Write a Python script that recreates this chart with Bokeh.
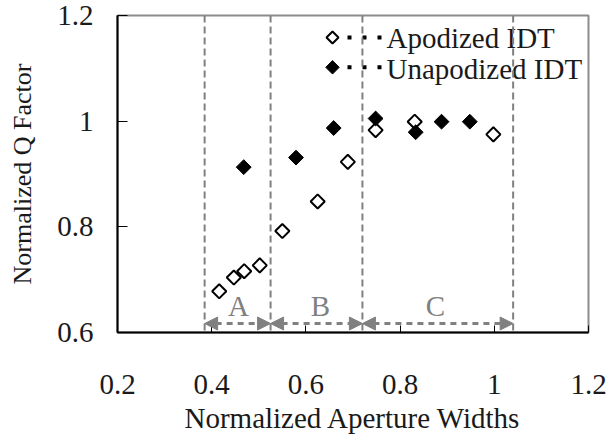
import math
from bokeh.plotting import figure
from bokeh.models import Span, Arrow, NormalHead, FixedTicker
from bokeh.core.properties import value
from bokeh.embed import file_html
from bokeh.resources import INLINE

# ---- data ----
apod_x = [0.416, 0.447, 0.469, 0.502, 0.550, 0.625, 0.689, 0.748, 0.831, 0.998]
apod_y = [0.678, 0.704, 0.716, 0.727, 0.792, 0.848, 0.923, 0.983, 0.999, 0.975]
unap_x = [0.468, 0.579, 0.659, 0.748, 0.833, 0.888, 0.948]
unap_y = [0.913, 0.931, 0.987, 1.005, 0.979, 0.999, 0.999]
series_names = ["Apodized IDT", "Unapodized IDT"]
x_title = "Normalized Aperture Widths"
y_title = "Normalized Q Factor"

region_edges = [0.385, 0.525, 0.72, 1.04]
region_names = ["A", "B", "C"]
region_label_x = [0.457, 0.631, 0.875]
region_arrow_y = 0.617
region_label_y = 0.651

x_ticks = [0.2, 0.4, 0.6, 0.8, 1.0, 1.2]
y_ticks = [0.6, 0.8, 1.0, 1.2]
x_tick_labels = {0.2: "0.2", 0.4: "0.4", 0.6: "0.6", 0.8: "0.8", 1.0: "1", 1.2: "1.2"}
y_tick_labels = {0.6: "0.6", 0.8: "0.8", 1.0: "1", 1.2: "1.2"}

FONT = "Liberation Serif"
TXT = "#1a1a1a"
GRAY = "#808080"

W, H = 613, 436
BL, BR, BT, BB = 117, 25, 15, 103
X0, X1, Y0, Y1 = 0.2, 1.2, 0.6, 1.2

p = figure(width=W, height=H, x_range=(X0, X1), y_range=(Y0, Y1),
           output_backend="svg", toolbar_location=None,
           min_border_left=BL, min_border_right=BR, min_border_top=BT, min_border_bottom=BB)
p.grid.visible = False
p.background_fill_color = "white"
p.outline_line_color = "#8c8c8c"
p.outline_line_width = 2

for ax in (p.xaxis[0], p.yaxis[0]):
    ax.axis_line_color = "black"
    ax.axis_line_width = 2
    ax.major_tick_line_color = "black"
    ax.major_tick_line_width = 1
    ax.major_tick_out = 0
    ax.minor_tick_line_color = None
    ax.major_label_text_font = FONT
    ax.major_label_text_font_size = "29px"
    ax.major_label_text_color = TXT
    ax.axis_label_text_font = FONT
    ax.axis_label_text_color = TXT
    ax.axis_label_text_font_style = "normal"

p.xaxis.axis_label_text_font_size = "29px"
p.yaxis.axis_label_text_font_size = "26px"
p.xaxis.ticker = FixedTicker(ticks=x_ticks)
p.yaxis.ticker = FixedTicker(ticks=y_ticks)
p.xaxis.major_label_overrides = x_tick_labels
p.yaxis.major_label_overrides = y_tick_labels
p.xaxis.major_tick_in = 7
p.yaxis.major_tick_in = 10
p.xaxis.major_label_standoff = 42
p.yaxis.major_label_standoff = 24
p.xaxis.axis_label = x_title
p.yaxis.axis_label = y_title
p.xaxis.axis_label_standoff = 5
p.yaxis.axis_label_standoff = 17

# region separators
for e in region_edges:
    p.add_layout(Span(location=e, dimension="height", line_color=GRAY,
                      line_width=2, line_dash="7 4"))

# region arrows
for i in range(len(region_names)):
    p.add_layout(Arrow(x_start=region_edges[i], x_end=region_edges[i + 1],
                       y_start=region_arrow_y, y_end=region_arrow_y,
                       line_color=GRAY, line_width=3, line_dash="6 5",
                       start=NormalHead(size=13, fill_color=GRAY, line_color=GRAY),
                       end=NormalHead(size=13, fill_color=GRAY, line_color=GRAY)))

p.text(x=region_label_x, y=[region_label_y] * 3, text=region_names,
       text_font=value(FONT), text_font_size="29px", text_color=GRAY,
       text_align="center", text_baseline="alphabetic")

p.scatter(apod_x, apod_y, marker="square", angle=math.pi / 4, size=10,
          fill_color="white", line_color="black", line_width=2)
p.scatter(unap_x, unap_y, marker="square", angle=math.pi / 4, size=10.5,
          fill_color="black", line_color="black", line_width=1)


# ---- legend (drawn as a decoration inside the frame, placed in pixel terms) ----
def lx(px):
    return X0 + (px - BL) / (W - BL - BR) * (X1 - X0)


def ly(py):
    return Y1 - (py - BT) / (H - BT - BB) * (Y1 - Y0)


leg_rows = [37, 67]
leg_base = [38, 69]
leg_fill = ["white", "black"]
leg_lw = [2, 1]
leg_size = [8.5, 9.5]
leg_dots = [349, 364, 379]
for i, name in enumerate(series_names):
    p.scatter([lx(332)], [ly(leg_rows[i])], marker="square", angle=math.pi / 4,
              size=leg_size[i], fill_color=leg_fill[i], line_color="black",
              line_width=leg_lw[i])
    p.scatter([lx(d) for d in leg_dots], [ly(leg_rows[i])] * 3, marker="square",
              size=4, fill_color="black", line_color=None)
    p.text(x=[lx(386)], y=[ly(leg_base[i])], text=[name], text_font=value(FONT),
           text_font_size="29px", text_color=TXT, text_align="left",
           text_baseline="alphabetic")

open("out.html", "w").write(file_html(p, INLINE))
